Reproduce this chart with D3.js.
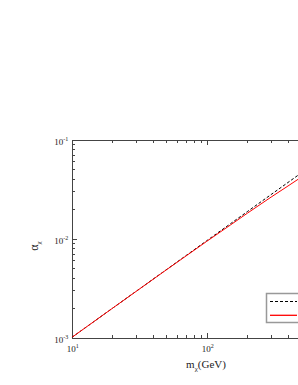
<!DOCTYPE html>
<html>
<head>
<meta charset="utf-8">
<script src="https://cdn.jsdelivr.net/npm/d3@7"></script>
<style>
  body { margin: 0; background: #fff; }
  svg { display: block; }
  .axis path, .axis line { stroke: #444; stroke-width: 1; shape-rendering: crispEdges; }
  text { font-family: "Liberation Serif", "DejaVu Serif", serif; fill: #222; }
</style>
</head>
<body>
<div id="chart"></div>
<script>
// masses (GeV) and the two curves for alpha_chi
var mass     = [10, 20, 50, 100, 150, 200, 300, 400, 500, 700, 1000];
var alphaNum = [0.00100, 0.00197, 0.00482, 0.00949, 0.0141, 0.0187, 0.0278, 0.0368, 0.0458, 0.0636, 0.0900];
var alphaFit = [0.00100, 0.00197, 0.00480, 0.00935, 0.0137, 0.0180, 0.0262, 0.0339, 0.0415, 0.0558, 0.0761];
var seriesNames = ["numerical", "approximation"];
var seriesColors = ["#000000", "#ff0000"];

var xMajor = [10, 100];
var yMajor = [1e-3, 1e-2, 1e-1];

var width = 298, height = 385;
var pLeft = 71.7, pTop = 139.5, pBottom = 337.5, pRight = 341.7;

var svg = d3.select("#chart").append("svg")
    .attr("width", width)
    .attr("height", height);

var x = d3.scaleLog().domain([10, 1000]).range([pLeft, pRight]);
var y = d3.scaleLog().domain([1e-3, 1e-1]).range([pBottom, pTop]);

// minor ticks: 2..9 in each decade
function minors(lo, hi) {
  var out = [];
  for (var d = lo; d < hi; d *= 10)
    for (var k = 2; k <= 9; k++) out.push(d * k);
  return out;
}
var xMinor = minors(10, 1000);
var yMinor = minors(1e-3, 1e-1);

function drawAxis(axisFn, scale, majors, minorVals, transform) {
  var g = svg.append("g").attr("class", "axis").attr("transform", transform);
  g.call(axisFn(scale).tickValues(majors).tickSize(-5).tickSizeOuter(0).tickFormat(""));
  var g2 = svg.append("g").attr("class", "axis").attr("transform", transform);
  g2.call(axisFn(scale).tickValues(minorVals).tickSize(-3).tickSizeOuter(0).tickFormat(""));
  g2.select(".domain").remove();
}

drawAxis(d3.axisBottom, x, xMajor, xMinor, "translate(0," + pBottom + ")");
drawAxis(d3.axisTop, x, xMajor, xMinor, "translate(0," + pTop + ")");
drawAxis(d3.axisLeft, y, yMajor, yMinor, "translate(" + pLeft + ",0)");

// tick labels as 10^n
function powLabel(sel, v) {
  var e = Math.round(Math.log10(v));
  sel.append("tspan").style("font-size", "9px").text("10");
  sel.append("tspan").style("font-size", "6px").attr("dy", -3.5).text(e);
}

xMajor.forEach(function(v) {
  var t = svg.append("text")
      .attr("x", x(v) + 1)
      .attr("y", pBottom + 14)
      .attr("text-anchor", "middle");
  powLabel(t, v);
});

yMajor.forEach(function(v) {
  var t = svg.append("text")
      .attr("x", pLeft - 3.5)
      .attr("y", y(v) + 5)
      .attr("text-anchor", "end");
  powLabel(t, v);
});

// axis titles
var xt = svg.append("text")
    .attr("x", 206)
    .attr("y", 367.5)
    .attr("text-anchor", "middle")
    .style("font-size", "11px");
xt.append("tspan").text("m");
xt.append("tspan").attr("dy", 3).style("font-size", "7px").text("χ");
xt.append("tspan").attr("dy", -3).text("(GeV)");

var yt = svg.append("text")
    .attr("transform", "translate(37.5,246) rotate(-90)")
    .attr("text-anchor", "middle")
    .style("font-size", "12px");
yt.append("tspan").text("α");
yt.append("tspan").attr("dy", 3).style("font-size", "7px").text("χ");

// curves
var line = d3.line()
    .x(function(d) { return x(d[0]); })
    .y(function(d) { return y(d[1]); });

svg.append("clipPath").attr("id", "plotclip")
  .append("rect").attr("x", pLeft).attr("y", pTop)
  .attr("width", pRight - pLeft).attr("height", pBottom - pTop);

var plot = svg.append("g").attr("clip-path", "url(#plotclip)");

plot.append("path")
    .datum(d3.zip(mass, alphaNum))
    .attr("d", line)
    .style("fill", "none")
    .style("stroke", seriesColors[0])
    .style("stroke-width", 1)
    .style("stroke-dasharray", "3,2");

plot.append("path")
    .datum(d3.zip(mass, alphaFit))
    .attr("d", line)
    .style("fill", "none")
    .style("stroke", seriesColors[1])
    .style("stroke-width", 1);

// legend
var lg = svg.append("g").attr("transform", "translate(266,293)");
lg.append("rect")
    .attr("x", 0.5).attr("y", 0.5)
    .attr("width", 70).attr("height", 29)
    .style("fill", "#fff")
    .style("stroke", "#999")
    .style("stroke-width", 1.5);

var keyLine = d3.line();
lg.append("path")
    .attr("d", keyLine([[4, 8.5], [31, 8.5]]))
    .style("fill", "none")
    .style("stroke", seriesColors[0])
    .style("stroke-width", 1)
    .style("stroke-dasharray", "3,2");
lg.append("path")
    .attr("d", keyLine([[4, 22.3], [31, 22.3]]))
    .style("fill", "none")
    .style("stroke", seriesColors[1])
    .style("stroke-width", 1.3);

seriesNames.forEach(function(name, i) {
  lg.append("text")
      .attr("x", 32).attr("y", 11.5 + i * 14)
      .style("font-size", "9px")
      .text(name);
});
</script>
</body>
</html>
